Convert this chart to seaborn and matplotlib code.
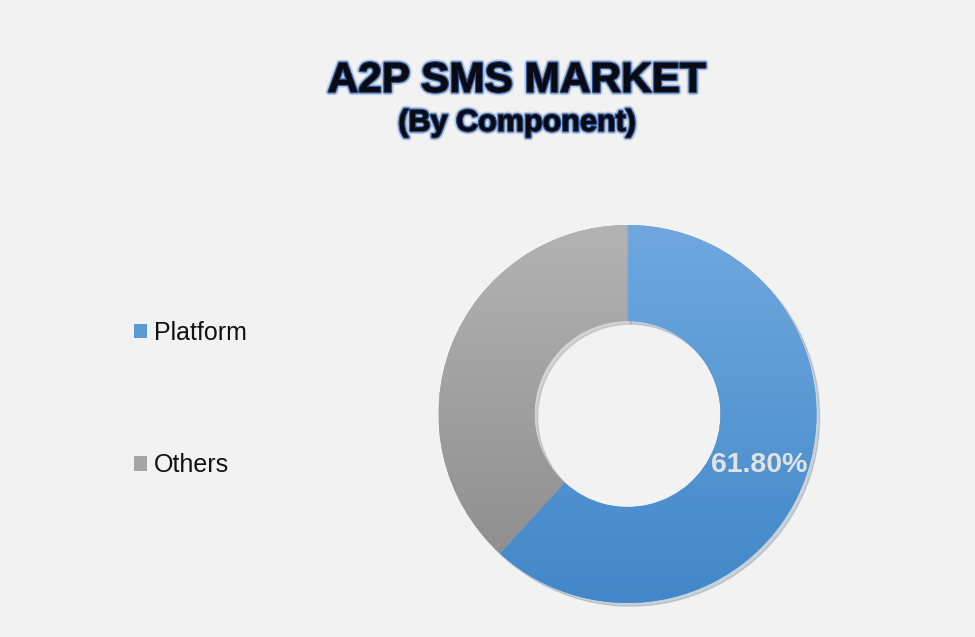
import numpy as np
import matplotlib
matplotlib.use("Agg")
import matplotlib.pyplot as plt
import matplotlib.patheffects as pe
from matplotlib.colors import LinearSegmentedColormap
import seaborn as sns

# ---- data ----
categories = ["Platform", "Others"]
shares = [61.8, 38.2]
title_main = "A2P SMS MARKET"
title_sub = "(By Component)"

sns.set_theme(style="white")
plt.rcParams["font.family"] = ["Liberation Sans", "DejaVu Sans"]

bg = "#f2f2f2"
fig = plt.figure(figsize=(9.75, 6.37), dpi=100, facecolor=bg)

W, H = 975, 637
cx, cy, R = 627.5, 414, 189
ax = fig.add_axes([(cx - R) / W, (H - cy - R) / H, 2 * R / W, 2 * R / H])
ax.set_facecolor(bg)

base_colors = ["#5b9bd5", "#a5a5a5"]
grad_colors = [("#70a8de", "#4187c9"), ("#b3b3b3", "#8a8a8a")]


def fmt(p):
    return f"{p:.2f}%" if p > 50 else ""


wedges, texts, autotexts = ax.pie(
    shares,
    colors=base_colors,
    startangle=90,
    counterclock=False,
    radius=1,
    wedgeprops=dict(width=0.508, edgecolor="none"),
    autopct=fmt,
    pctdistance=0.745,
    shadow=dict(ox=0.012, oy=-0.012, shade=0.4, alpha=0.22),
    textprops=dict(color="#e2e2e2", fontsize=20.5, fontweight="bold"),
)

# vertical gradient inside each wedge
for w, (c_top, c_bot) in zip(wedges, grad_colors):
    cmap = LinearSegmentedColormap.from_list("g", [c_bot, c_top])
    grad = np.linspace(0, 1, 256).reshape(-1, 1)
    im = ax.imshow(grad, cmap=cmap, extent=[-1, 1, -1, 1], origin="lower",
                   aspect="auto", zorder=w.get_zorder() + 0.1)
    im.set_clip_path(w)

for t in autotexts:
    t.set_zorder(10)

ax.set_xlim(-1, 1)
ax.set_ylim(-1, 1)
ax.set_aspect("equal")
ax.axis("off")

# legend
leg = fig.legend(
    wedges, categories,
    loc="center left",
    bbox_to_anchor=(134 / W, 1 - 399 / H),
    frameon=False,
    borderpad=0,
    borderaxespad=0,
    fontsize=18,
    handlelength=0.5,
    handleheight=0.5,
    handletextpad=0.28,
    labelspacing=4.35,
)
for txt in leg.get_texts():
    txt.set_color("#111111")

# titles
glow = [
    pe.SimplePatchShadow(offset=(1.5, -1.5), shadow_rgbFace="#9aa6b8", alpha=0.5),
    pe.withStroke(linewidth=4.5, foreground="#aebfdc", alpha=0.8),
    pe.withStroke(linewidth=2.0, foreground="#2a5192"),
    pe.Normal(),
]
fig.text(517 / W, 1 - 81 / H, title_main, ha="center", va="center",
         fontsize=30.5, fontweight="bold", color="#0a0a12", path_effects=glow)
fig.text(517 / W, 1 - 123 / H, title_sub, ha="center", va="center",
         fontsize=22, fontweight="bold", color="#0a0a12", path_effects=glow)

fig.savefig("out.png", dpi=100, facecolor=bg)
